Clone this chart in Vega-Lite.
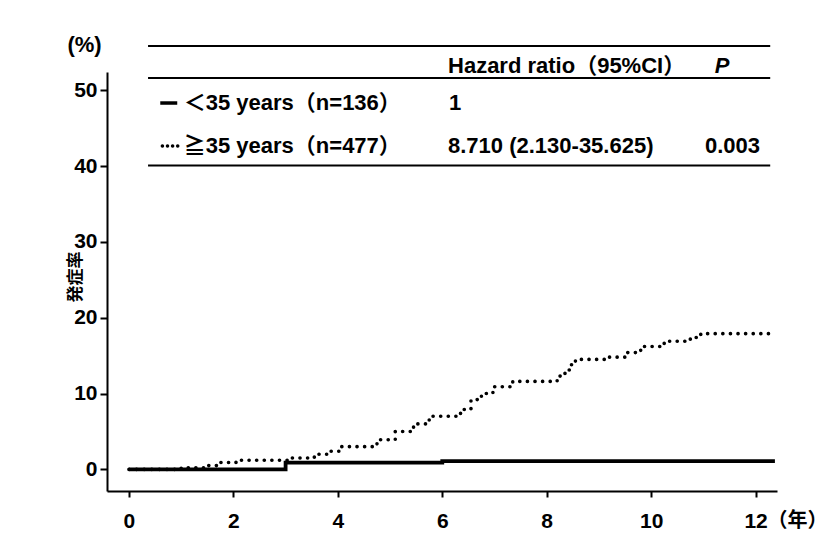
{
  "$schema": "https://vega.github.io/schema/vega-lite/v6.json",
  "width": 670,
  "height": 419,
  "autosize": "none",
  "padding": {"left": 107, "top": 72, "right": 55, "bottom": 59},
  "background": "white",
  "config": {
    "view": {"stroke": null},
    "font": "Liberation Sans, Noto Sans CJK JP",
    "text": {"font": "Liberation Sans, Noto Sans CJK JP", "fontSize": 22, "color": "black"}
  },
  "datasets": {
    "km": [
      {"group": "<35", "year": 0, "pct": 0},
      {"group": "<35", "year": 3.0, "pct": 0.9},
      {"group": "<35", "year": 6.0, "pct": 1.1},
      {"group": "<35", "year": 12.37, "pct": 1.1},
      {"group": ">=35", "year": 0, "pct": 0},
      {"group": ">=35", "year": 1.0, "pct": 0.2},
      {"group": ">=35", "year": 1.5, "pct": 0.5},
      {"group": ">=35", "year": 1.75, "pct": 0.9},
      {"group": ">=35", "year": 2.05, "pct": 1.2},
      {"group": ">=35", "year": 3.05, "pct": 1.5},
      {"group": ">=35", "year": 3.55, "pct": 2.0},
      {"group": ">=35", "year": 3.8, "pct": 2.4},
      {"group": ">=35", "year": 4.05, "pct": 3.0},
      {"group": ">=35", "year": 4.75, "pct": 3.9},
      {"group": ">=35", "year": 5.1, "pct": 5.0},
      {"group": ">=35", "year": 5.45, "pct": 6.0},
      {"group": ">=35", "year": 5.75, "pct": 7.0},
      {"group": ">=35", "year": 6.35, "pct": 7.9},
      {"group": ">=35", "year": 6.55, "pct": 9.2},
      {"group": ">=35", "year": 6.75, "pct": 10.0},
      {"group": ">=35", "year": 6.97, "pct": 10.9},
      {"group": ">=35", "year": 7.35, "pct": 11.6},
      {"group": ">=35", "year": 8.2, "pct": 12.3},
      {"group": ">=35", "year": 8.35, "pct": 13.1},
      {"group": ">=35", "year": 8.45, "pct": 13.8},
      {"group": ">=35", "year": 8.55, "pct": 14.5},
      {"group": ">=35", "year": 9.2, "pct": 14.8},
      {"group": ">=35", "year": 9.5, "pct": 15.4},
      {"group": ">=35", "year": 9.8, "pct": 16.2},
      {"group": ">=35", "year": 10.25, "pct": 16.9},
      {"group": ">=35", "year": 10.75, "pct": 17.4},
      {"group": ">=35", "year": 10.95, "pct": 17.9},
      {"group": ">=35", "year": 12.33, "pct": 17.9}
    ]
  },
  "layer": [
    {
      "data": {"name": "km"},
      "transform": [{"filter": "datum.group === '<35'"}],
      "mark": {"type": "line", "interpolate": "step-after", "color": "black", "strokeWidth": 3.8},
      "encoding": {
        "x": {
          "field": "year", "type": "quantitative",
          "scale": {"domain": [-0.42, 12.41], "nice": false, "zero": false},
          "axis": {
            "values": [0, 2, 4, 6, 8, 10, 12], "title": null, "grid": false,
            "domainColor": "black", "domainWidth": 2, "tickColor": "black", "tickWidth": 2,
            "tickSize": 6, "labelFontSize": 21, "labelColor": "black", "labelPadding": 13,
            "labelFont": "Liberation Sans", "labelFontWeight": "bold"
          }
        },
        "y": {
          "field": "pct", "type": "quantitative",
          "scale": {"domain": [-2.85, 52.4], "nice": false, "zero": false},
          "axis": {
            "values": [0, 10, 20, 30, 40, 50], "title": null, "grid": false,
            "domainColor": "black", "domainWidth": 2, "tickColor": "black", "tickWidth": 2,
            "tickSize": 7, "labelFontSize": 21, "labelColor": "black", "labelPadding": 3,
            "labelFont": "Liberation Sans", "labelFontWeight": "bold"
          }
        }
      }
    },
    {
      "data": {"name": "km"},
      "transform": [{"filter": "datum.group === '>=35'"}],
      "mark": {"type": "line", "interpolate": "step-after", "color": "black", "strokeWidth": 3.6, "strokeCap": "round", "strokeDash": [0.1, 7.5]},
      "encoding": {
        "x": {"field": "year", "type": "quantitative"},
        "y": {"field": "pct", "type": "quantitative"}
      }
    },
    {
      "data": {"values": [{"y": 55.83}, {"y": 51.61}, {"y": 40.07}]},
      "mark": {"type": "rule", "color": "black", "strokeWidth": 2},
      "encoding": {
        "x": {"datum": 0.366},
        "x2": {"datum": 12.28},
        "y": {"field": "y", "type": "quantitative"}
      }
    },
    {
      "data": {"values": [{}]},
      "mark": {"type": "rule", "color": "black", "strokeWidth": 3.5},
      "encoding": {"x": {"datum": 0.6}, "x2": {"datum": 0.925}, "y": {"datum": 48.31}}
    },
    {
      "data": {"values": [{}]},
      "mark": {"type": "rule", "color": "black", "strokeWidth": 3.5, "strokeCap": "round", "strokeDash": [0.1, 5]},
      "encoding": {"x": {"datum": 0.64}, "x2": {"datum": 0.966}, "y": {"datum": 42.64}}
    },
    {
      "data": {"values": [{}]},
      "mark": {"type": "text", "text": "＜35 years（n=136）", "align": "left", "baseline": "middle", "fontWeight": "bold"},
      "encoding": {"x": {"datum": 1.05}, "y": {"datum": 48.31}}
    },
    {
      "data": {"values": [{}]},
      "mark": {"type": "text", "text": "≧35 years（n=477）", "align": "left", "baseline": "middle", "fontWeight": "bold"},
      "encoding": {"x": {"datum": 1.05}, "y": {"datum": 42.64}}
    },
    {
      "data": {"values": [{}]},
      "mark": {"type": "text", "text": "Hazard ratio（95%CI）", "align": "left", "baseline": "middle", "fontWeight": "bold"},
      "encoding": {"x": {"datum": 6.11}, "y": {"datum": 53.19}}
    },
    {
      "data": {"values": [{}]},
      "mark": {"type": "text", "text": "P", "align": "center", "baseline": "middle", "fontWeight": "bold", "fontStyle": "italic"},
      "encoding": {"x": {"datum": 11.36}, "y": {"datum": 53.19}}
    },
    {
      "data": {"values": [{}]},
      "mark": {"type": "text", "text": "1", "align": "left", "baseline": "middle", "fontWeight": "bold"},
      "encoding": {"x": {"datum": 6.13}, "y": {"datum": 48.31}}
    },
    {
      "data": {"values": [{}]},
      "mark": {"type": "text", "text": "8.710 (2.130-35.625)", "align": "left", "baseline": "middle", "fontWeight": "bold"},
      "encoding": {"x": {"datum": 6.11}, "y": {"datum": 42.64}}
    },
    {
      "data": {"values": [{}]},
      "mark": {"type": "text", "text": "0.003", "align": "left", "baseline": "middle", "fontWeight": "bold"},
      "encoding": {"x": {"datum": 11.03}, "y": {"datum": 42.64}}
    },
    {
      "data": {"values": [{}]},
      "mark": {"type": "text", "text": "(%)", "align": "center", "baseline": "middle", "fontWeight": "bold"},
      "encoding": {"x": {"datum": -0.85}, "y": {"datum": 55.96}}
    },
    {
      "data": {"values": [{}]},
      "mark": {"type": "text", "text": "発症率", "align": "center", "baseline": "middle", "angle": 270, "fontSize": 17, "fontWeight": "bold"},
      "encoding": {"x": {"datum": -1.02}, "y": {"datum": 25.37}}
    },
    {
      "data": {"values": [{}]},
      "mark": {"type": "text", "text": "（年）", "align": "left", "baseline": "middle", "fontSize": 20, "fontWeight": "bold"},
      "encoding": {"x": {"datum": 12.23}, "y": {"datum": -6.8}}
    }
  ]
}
